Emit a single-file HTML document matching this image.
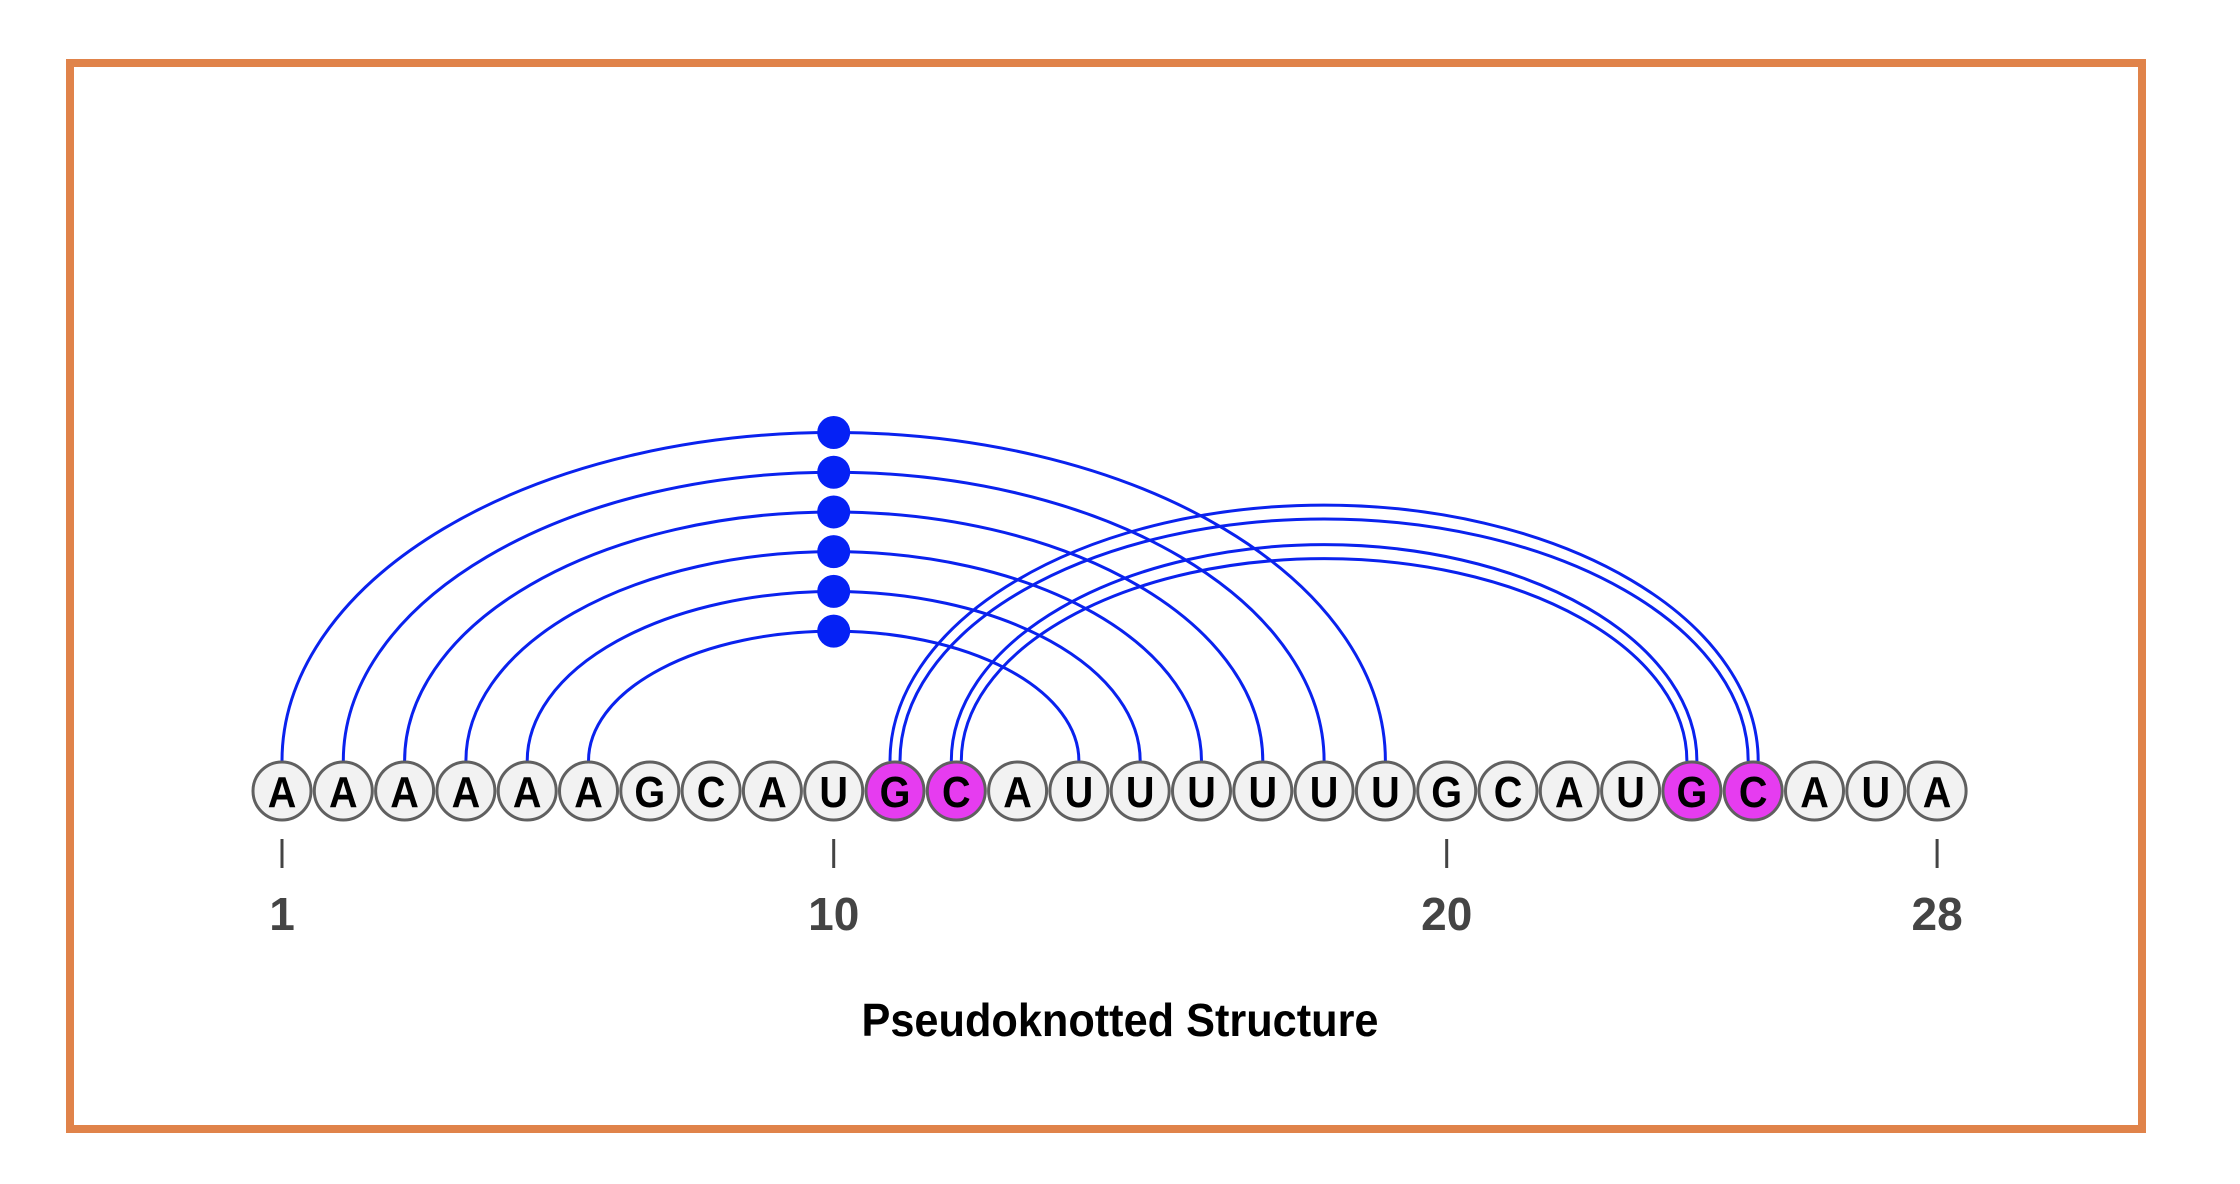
<!DOCTYPE html>
<html><head><meta charset="utf-8"><style>
html,body{margin:0;padding:0;background:#fff;}
svg{display:block;}
</style></head><body>
<svg id="chart" width="2240" height="1184" viewBox="0 0 2240 1184" xmlns="http://www.w3.org/2000/svg">
<rect x="70" y="63" width="2072" height="1066" fill="none" stroke="#E0834A" stroke-width="8"/>
<g id="arcs"></g>
<g id="dots"></g>
<g id="nodes"></g>
<g id="ticks"></g>
<text x="1120" y="1036" text-anchor="middle" font-family="Liberation Sans, sans-serif" font-weight="bold" font-size="46" textLength="517" lengthAdjust="spacingAndGlyphs" fill="#000">Pseudoknotted Structure</text>
</svg>
<script>
const sequence = ["A","A","A","A","A","A","G","C","A","U","G","C","A","U","U","U","U","U","U","G","C","A","U","G","C","A","U","A"];
const highlighted = [11,12,24,25];
const nestedPairs = [[1,19],[2,18],[3,17],[4,16],[5,15],[6,14]];
const knotPairs = [[11,25],[12,24]];
const tickPositions = [1,10,20,28];

const NS="http://www.w3.org/2000/svg";
const x0=282, step=61.3, cy=791, r=29, baseY=761;
function xPos(i){return x0+(i-1)*step;}
function arcHeight(half){return 0.648*half-29;}
function mk(tag,attrs,parent){const e=document.createElementNS(NS,tag);for(const k in attrs)e.setAttribute(k,attrs[k]);parent.appendChild(e);return e;}
const arcs=document.getElementById('arcs'),dots=document.getElementById('dots'),nodes=document.getElementById('nodes'),ticks=document.getElementById('ticks');

nestedPairs.forEach(p=>{
  const a=xPos(p[0]),b=xPos(p[1]),half=(b-a)/2,h=arcHeight(half);
  const path=mk('path',{d:`M${a},${baseY} A${half},${h} 0 0 1 ${b},${baseY}`,fill:'none',stroke:'#0a22ee','stroke-width':3},arcs);
  
  
  const d=mk('circle',{cx:(a+b)/2,cy:baseY-h,r:16.5,fill:'#0521f5'},dots);
  
  
});
knotPairs.forEach(p=>{
  const a=xPos(p[0]),b=xPos(p[1]),half=(b-a)/2,h=arcHeight(half);
  [-5,5].forEach(o=>{
    const hh=h+o*1.4, aa=a-o, bb=b+o;
    const path=mk('path',{d:`M${aa},${baseY} A${half+o},${hh} 0 0 1 ${bb},${baseY}`,fill:'none',stroke:'#0a22ee','stroke-width':3},arcs);
    
    
  });
});
sequence.forEach((s,k)=>{
  const i=k+1,x=xPos(i),hl=highlighted.includes(i);
  const c=mk('circle',{cx:x,cy:cy,r:r,fill:hl?'#E63CF0':'#f2f2f2',stroke:'#606060','stroke-width':3},nodes);
  
  
  const t=mk('text',{x:x,y:cy+16,'text-anchor':'middle','font-family':'Liberation Sans, sans-serif','font-weight':'bold','font-size':44,fill:'#000',transform:`translate(${x} 0) scale(0.9 1) translate(${-x} 0)`},nodes);
  t.textContent=s;
  
  
});
tickPositions.forEach(i=>{
  const x=xPos(i);
  const l=mk('line',{x1:x,x2:x,y1:839,y2:868,stroke:'#444','stroke-width':3},ticks);
  
  
  const t=mk('text',{x:x,y:930,'text-anchor':'middle','font-family':'Liberation Sans, sans-serif','font-weight':'bold','font-size':46,fill:'#444'},ticks);
  t.textContent=String(i);
  
  
});
</script>
</body></html>
